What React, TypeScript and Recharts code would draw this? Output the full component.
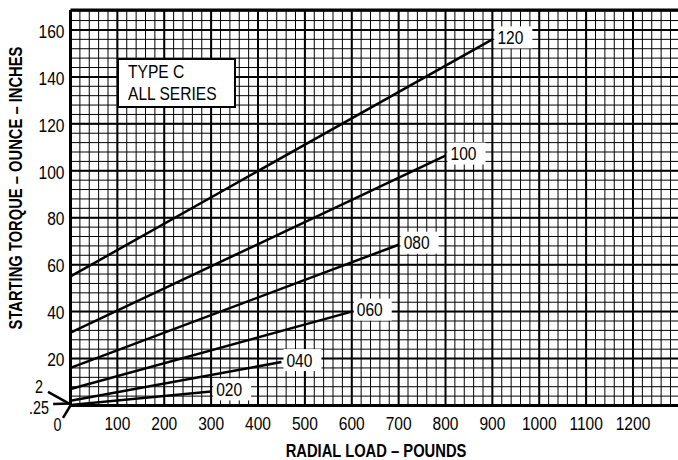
import React from 'react';
import {
  LineChart,
  Line,
  XAxis,
  YAxis,
  CartesianGrid,
  ReferenceLine,
  ReferenceDot
} from 'recharts';

// series: each line runs from load 0 to its end load
const SERIES_NAMES = ['020', '040', '060', '080', '100', '120'];
const START_TORQUE = [0.25, 2, 7, 16, 31, 55];
const END_LOAD = [300, 450, 600, 700, 800, 900];
const END_TORQUE = [6, 18.5, 40, 68.5, 106.5, 156];

const X_TICKS = [100, 200, 300, 400, 500, 600, 700, 800, 900, 1000, 1100, 1200];
const Y_TICKS = [20, 40, 60, 80, 100, 120, 140, 160];

const X_MAX = 1296;
const Y_MAX = 168.5;

const FONT = '"Liberation Sans", Arial, sans-serif';
const NARROW = 0.82; // squeeze to get the condensed face of the original

// grid paper: minor every 20 lb / 4 oz-in, major every 100 lb / 20 oz-in
const range = (step: number, max: number) => {
  const out: number[] = [];
  for (let v = step; v <= max; v += step) out.push(v);
  return out;
};
const MINOR_X = range(20, X_MAX);
const MAJOR_X = range(100, X_MAX);
const MINOR_Y = range(4, Y_MAX);
const MAJOR_Y = range(20, Y_MAX);

const seriesData = SERIES_NAMES.map((name, i) => ({
  name,
  points: [
    { load: 0, torque: START_TORQUE[i] },
    { load: END_LOAD[i], torque: END_TORQUE[i] }
  ]
}));

type NarrowTextProps = {
  x: number;
  y: number;
  anchor?: 'start' | 'middle' | 'end';
  size?: number;
  bold?: boolean;
  rotate?: number;
  dy?: string;
  children: React.ReactNode;
};

function NarrowText({ x, y, anchor = 'start', size = 19, bold, rotate = 0, dy = '0.355em', children }: NarrowTextProps) {
  return (
    <text
      transform={`translate(${x},${y}) rotate(${rotate}) scale(${NARROW},1)`}
      textAnchor={anchor}
      dy={dy}
      fontFamily={FONT}
      fontSize={size}
      fontWeight={bold ? 'bold' : 'normal'}
      fill="#000"
    >
      {children}
    </text>
  );
}

const XTick = (props: any) => (
  <NarrowText x={props.x} y={props.y} anchor="middle" dy="0.72em">
    {props.payload.value}
  </NarrowText>
);

const YTick = (props: any) => (
  <NarrowText x={props.x} y={props.y + 1} anchor="end">
    {props.payload.value}
  </NarrowText>
);

const endLabel = (name: string) => (props: any) => {
  const { x, y, index } = props;
  if (index !== 1) return null;
  return (
    <g>
      <rect x={x + 2} y={y - 13} width={38} height={22} fill="#fff" />
      <NarrowText x={x + 5} y={y - 2}>
        {name}
      </NarrowText>
    </g>
  );
};

const smallLabel = (text: string) => (props: any) => {
  const { viewBox } = props;
  const cx = viewBox.x + viewBox.width / 2;
  const cy = viewBox.y + viewBox.height / 2;
  return (
    <NarrowText x={cx} y={cy} anchor="middle" size={17.5}>
      {text}
    </NarrowText>
  );
};

export default function App() {
  return (
    <div style={{ position: 'absolute', left: 0, top: 0, width: 678, height: 460, background: '#fff' }}>
      <LineChart width={678} height={460} margin={{ top: 10, right: 0, bottom: 0, left: 0 }}>
        <CartesianGrid horizontalValues={MINOR_Y} verticalValues={MINOR_X} stroke="#000" strokeWidth={1} />
        <CartesianGrid horizontalValues={MAJOR_Y} verticalValues={MAJOR_X} stroke="#000" strokeWidth={2} />
        <XAxis
          type="number"
          dataKey="load"
          domain={[0, X_MAX]}
          allowDataOverflow
          ticks={X_TICKS}
          interval={0}
          height={54.5}
          tickLine={false}
          tickSize={0}
          tickMargin={11}
          axisLine={{ stroke: '#000', strokeWidth: 3 }}
          tick={XTick}
          label={{
            content: () => (
              <NarrowText x={376} y={451} anchor="middle" size={18} bold>
                RADIAL LOAD – POUNDS
              </NarrowText>
            )
          }}
        />
        <YAxis
          type="number"
          dataKey="torque"
          domain={[0, Y_MAX]}
          allowDataOverflow
          ticks={Y_TICKS}
          interval={0}
          width={70.5}
          tickLine={false}
          tickSize={0}
          tickMargin={6}
          axisLine={{ stroke: '#000', strokeWidth: 3 }}
          tick={YTick}
          label={{
            content: () => (
              <NarrowText x={16} y={188} anchor="middle" size={18} bold rotate={-90}>
                STARTING TORQUE – OUNCE – INCHES
              </NarrowText>
            )
          }}
        />
        <ReferenceLine y={Y_MAX} stroke="#000" strokeWidth={3} ifOverflow="visible" />

        {/* leaders for the small starting values at the origin */}
        <ReferenceLine segment={[{ x: -48, y: 5.8 }, { x: 0, y: 0.5 }]} stroke="#000" strokeWidth={2.5} ifOverflow="visible" />
        <ReferenceLine segment={[{ x: -37, y: 0.6 }, { x: 0, y: 0.8 }]} stroke="#000" strokeWidth={2.5} ifOverflow="visible" />
        <ReferenceLine segment={[{ x: -16, y: -5.3 }, { x: 0, y: 0 }]} stroke="#000" strokeWidth={2.5} ifOverflow="visible" />
        <ReferenceDot x={-67} y={7.9} r={0} ifOverflow="visible" label={{ content: smallLabel('2') }} />
        <ReferenceDot x={-67} y={-1.1} r={0} ifOverflow="visible" label={{ content: smallLabel('.25') }} />
        <ReferenceDot x={-28} y={-8.3} r={0} ifOverflow="visible" label={{ content: smallLabel('0') }} />

        {seriesData.map((s) => (
          <Line
            key={s.name}
            data={s.points}
            dataKey="torque"
            type="linear"
            stroke="#000"
            strokeWidth={2.5}
            dot={false}
            isAnimationActive={false}
            label={endLabel(s.name)}
          />
        ))}
      </LineChart>

      <div
        style={{
          position: 'absolute',
          left: 116.7,
          top: 58.3,
          width: 106,
          height: 44.4,
          border: '2px solid #000',
          background: '#fff',
          fontFamily: FONT,
          fontSize: 19,
          lineHeight: '21.7px',
          padding: '1px 0 0 9px',
          boxSizing: 'content-box',
          color: '#000'
        }}
      >
        <span style={{ display: 'inline-block', whiteSpace: 'nowrap', transform: `scaleX(${NARROW})`, transformOrigin: 'left' }}>
          TYPE C
          <br />
          ALL SERIES
        </span>
      </div>
    </div>
  );
}
